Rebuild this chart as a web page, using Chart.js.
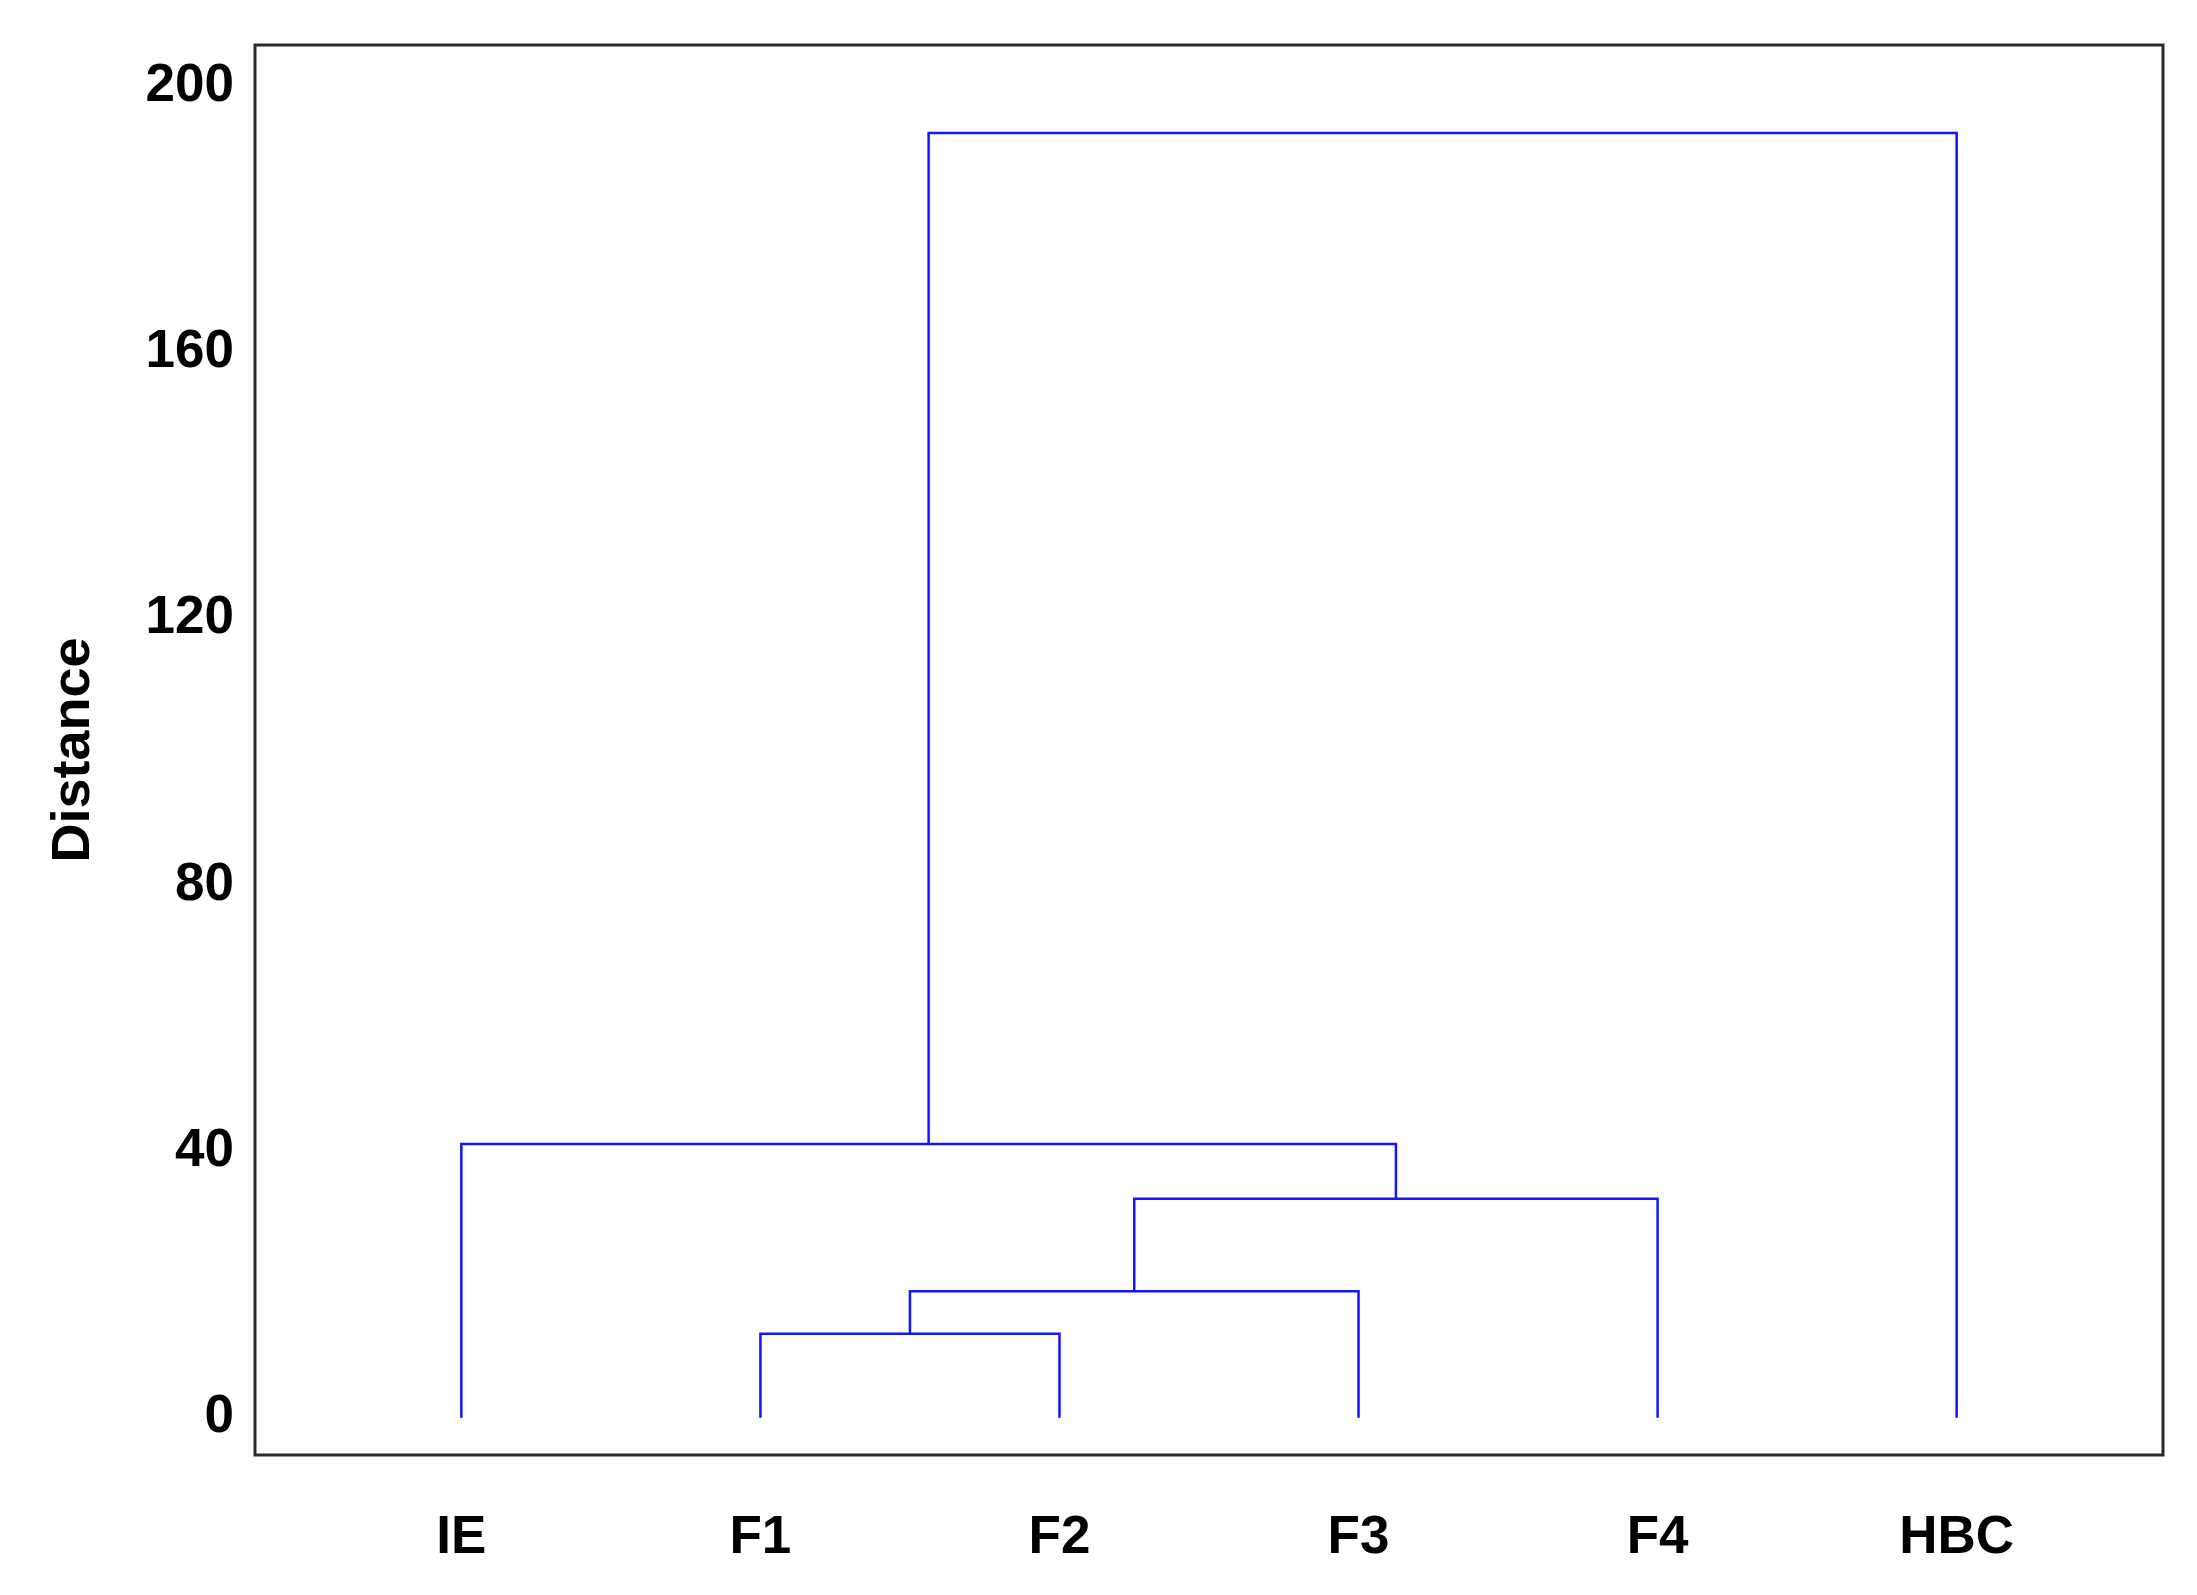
<!DOCTYPE html>
<html>
<head>
<meta charset="utf-8">
<script src="https://cdn.jsdelivr.net/npm/chart.js@4/dist/chart.umd.min.js"></script>
<style>
  html, body { margin: 0; padding: 0; background: #ffffff; }
  #wrap { width: 2197px; height: 1595px; }
</style>
</head>
<body>
<div id="wrap"><canvas id="c" width="2197" height="1595"></canvas></div>
<script>
// ---- data ----
const leafLabels = ['IE', 'F1', 'F2', 'F3', 'F4', 'HBC'];
const leafPositions = [1, 2, 3, 4, 5, 6];
// merge steps: children are leaf labels or earlier merges ('m0', 'm1', ...)
const mergeLeft = ['F1', 'm0', 'm1', 'IE', 'm3'];
const mergeRight = ['F2', 'F3', 'F4', 'm2', 'HBC'];
const mergeHeight = [12.6, 19.0, 32.9, 41.1, 193.0];
const yTickValues = [0, 40, 80, 120, 160, 200];
const yTitle = 'Distance';

// ---- build dendrogram links ----
const nodes = {};
leafLabels.forEach((l, i) => { nodes[l] = { x: leafPositions[i], h: 0 }; });
const datasets = [];
mergeHeight.forEach((h, i) => {
  const a = nodes[mergeLeft[i]], b = nodes[mergeRight[i]];
  nodes['m' + i] = { x: (a.x + b.x) / 2, h: h };
  datasets.push({
    data: [{ x: a.x, y: a.h }, { x: a.x, y: h }, { x: b.x, y: h }, { x: b.x, y: b.h }],
    showLine: true,
    borderColor: '#1414ff',
    borderWidth: 2.5,
    pointRadius: 0,
    fill: false,
    tension: 0
  });
});

const frame = {
  id: 'frame',
  afterDraw(chart) {
    const a = chart.chartArea, ctx = chart.ctx;
    ctx.save();
    ctx.strokeStyle = '#2a2a2a';
    ctx.lineWidth = 3;
    ctx.strokeRect(a.left, a.top, a.right - a.left, a.bottom - a.top);
    ctx.restore();
  }
};

const font = { family: '"Liberation Sans", Arial, sans-serif', weight: 'bold', size: 53 };

new Chart(document.getElementById('c'), {
  type: 'scatter',
  data: { datasets },
  plugins: [frame],
  options: {
    responsive: false,
    animation: false,
    layout: { padding: { left: 0, top: 45, right: 34, bottom: 0 } },
    plugins: { legend: { display: false }, tooltip: { enabled: false } },
    scales: {
      x: {
        type: 'linear',
        min: 0.31,
        max: 6.69,
        grid: { display: false, drawTicks: false },
        border: { display: false },
        afterBuildTicks: s => { s.ticks = leafPositions.map(v => ({ value: v })); },
        afterFit: s => { s.height = 140; s.paddingLeft = 0; s.paddingRight = 0; },
        ticks: {
          color: '#000',
          font: font,
          padding: 52,
          maxRotation: 0,
          autoSkip: false,
          callback: v => { const i = leafPositions.indexOf(v); return i >= 0 ? leafLabels[i] : ''; }
        }
      },
      y: {
        type: 'linear',
        min: -5.6,
        max: 206.2,
        grid: { display: false, drawTicks: false },
        border: { display: false },
        afterBuildTicks: s => { s.ticks = yTickValues.map(v => ({ value: v })); },
        afterFit: s => { s.width = 255; s.paddingTop = 0; s.paddingBottom = 0; },
        title: {
          display: true,
          text: yTitle,
          color: '#000',
          font: { family: '"Liberation Sans", Arial, sans-serif', weight: 'bold', size: 54 },
          padding: { top: 42, bottom: 0 }
        },
        ticks: {
          color: '#000',
          font: font,
          padding: 21,
          autoSkip: false
        }
      }
    }
  }
});
</script>
</body>
</html>
